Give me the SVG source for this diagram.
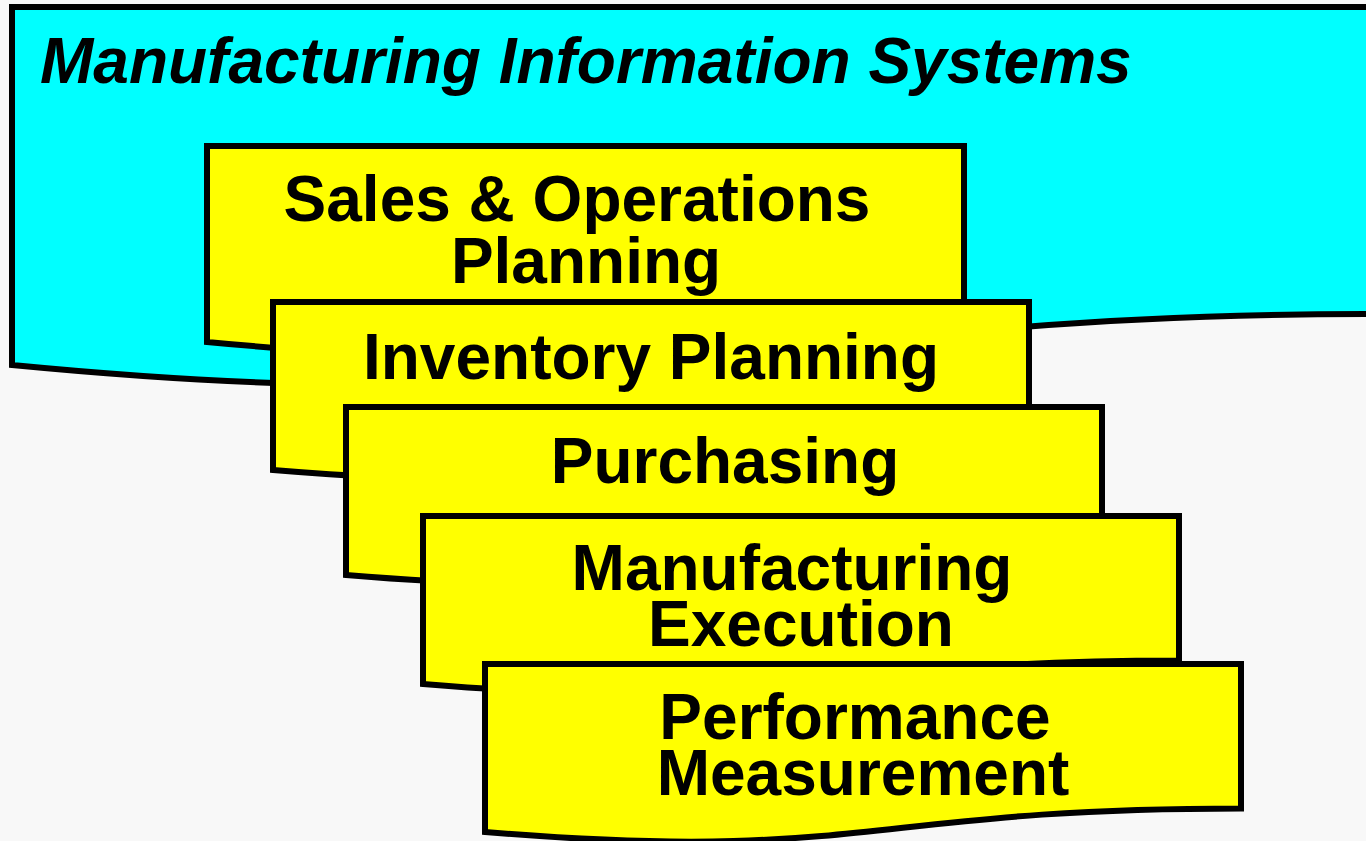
<svg xmlns="http://www.w3.org/2000/svg" width="1366" height="841" viewBox="0 0 1366 841">
<style>
.doc{stroke:#000;stroke-width:6;stroke-linejoin:miter}
.cyan{fill:#00ffff}
.yel{fill:#ffff00}
.t{font-family:"Liberation Sans",Arial,sans-serif;font-weight:bold;font-size:64px;fill:#000;text-anchor:middle}
.title{font-family:"Liberation Sans",Arial,sans-serif;font-weight:bold;font-style:italic;font-size:64px;fill:#000}
</style>
<rect width="1366" height="841" fill="#f8f8f8"/>
<g id="mis">
<path class="doc cyan" d="M12,7 H1380 V314 C696,314 696,431 12,365 Z"/>
<text class="title" x="40" y="83">Manufacturing Information Systems</text>
</g>
<g id="sop">
<path class="doc yel" d="M207,146 H964 V314 C585.5,314 585.5,378.6 207,342 Z"/>
<text class="t" x="577" y="221">Sales &amp; Operations</text>
<text class="t" x="586" y="283">Planning</text>
</g>
<g id="inventory">
<path class="doc yel" d="M273,302 H1029 V446.4 C651,446.4 651,501.4 273,470 Z"/>
<text class="t" x="651" y="379">Inventory Planning</text>
</g>
<g id="purchasing">
<path class="doc yel" d="M346,407 H1102 V551.4 C724,551.4 724,606.4 346,575 Z"/>
<text class="t" x="725" y="483">Purchasing</text>
</g>
<g id="mfgexec">
<path class="doc yel" d="M423,516 H1179 V660.4 C801,660.4 801,715.4 423,684 Z"/>
<text class="t" x="792" y="590">Manufacturing</text>
<text class="t" x="801" y="646">Execution</text>
</g>
<g id="perf">
<path class="doc yel" d="M485,664 H1241 V808.4 C863,808.4 863,863.4 485,832 Z"/>
<text class="t" x="855" y="739">Performance</text>
<text class="t" x="863" y="795">Measurement</text>
</g>
<g id="connectors"/>
</svg>
